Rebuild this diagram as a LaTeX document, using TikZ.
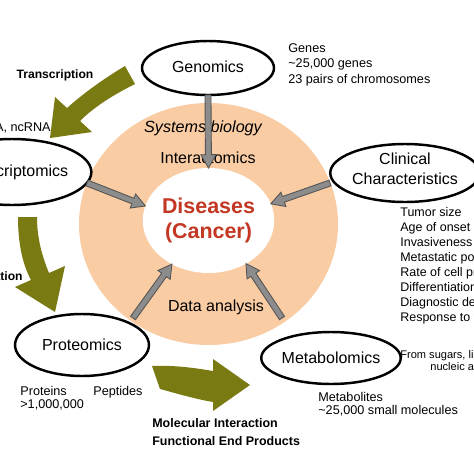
\documentclass[tikz,border=0pt]{standalone}
\usepackage{fontspec}
\setmainfont{Liberation Sans}
\usetikzlibrary{shapes.geometric,calc}
\definecolor{ringc}{RGB}{250,204,164}
\definecolor{olivec}{RGB}{122,122,18}
\definecolor{redc}{RGB}{195,55,35}
\definecolor{arrfill}{RGB}{140,140,140}
\definecolor{arrdraw}{RGB}{85,85,85}
\tikzset{
  omic/.style={ellipse, draw=black, line width=1.4pt, fill=white, inner sep=0pt, outer sep=0pt,
    font=\fontsize{9.1}{11.3}\selectfont, align=center},
  small/.style={inner sep=0pt, font=\fontsize{7.2}{8.8}\selectfont, align=left},
  boldlab/.style={inner sep=0pt, font=\bfseries\fontsize{6.9}{8}\selectfont},
  ringtext/.style={inner sep=0pt, font=\fontsize{9.1}{11}\selectfont},
  grayarr/.style={fill=arrfill, draw=arrdraw, line width=0.5pt, line join=miter},
  bigarr/.style={fill=olivec, draw=none},
  tiny/.style={inner sep=0pt, anchor=west, font=\fontsize{6.3}{7}\selectfont},
}
\newcommand\grayarrow[2]{%
  \path ($(#2)!7.6pt!(#1)$) coordinate (gab);
  \filldraw[grayarr] ($(#1)!1.7pt!90:(#2)$) -- ($(gab)!1.7pt!90:(#2)$) -- ($(gab)!4.3pt!90:(#2)$)
    -- (#2) -- ($(gab)!4.3pt!-90:(#2)$) -- ($(gab)!1.7pt!-90:(#2)$) -- ($(#1)!1.7pt!-90:(#2)$) -- cycle;}
\begin{document}
\begin{tikzpicture}[x=0.02cm,y=-0.02cm]
\useasboundingbox (0,0) rectangle (474,474);
\clip (0,0) rectangle (474,474);
\fill[white] (0,0) rectangle (474,474);
% ring
\fill[ringc] (208.5,224) ellipse [x radius=129.5, y radius=121];
\node[ellipse, fill=white, minimum width=2.34cm, minimum height=2.1cm, inner sep=0pt, outer sep=0pt,
  text=redc, font=\bfseries\fontsize{12.2}{14.2}\selectfont, align=center] (disease) at (208.5,220.5) {Diseases\\(Cancer)};
\node[ringtext, font=\itshape\fontsize{9.2}{11}\selectfont] (sysbio) at (203,128) {Systems biology};
\node[ringtext] (interact) at (208,158) {Interactomics};
\node[ringtext] (data) at (216,307) {Data analysis};
% olive arrows
\fill[bigarr] (125,66) .. controls (105,78) and (85,92) .. (67,108) -- (55,97) -- (50,138) -- (92,132)
  -- (80,121) .. controls (95,106) and (115,94) .. (135,84) -- cycle;
\fill[bigarr] (18,217) .. controls (18,245) and (23,265) .. (31,280) -- (15,287) -- (55,312) -- (65,266)
  -- (49,273) .. controls (42,256) and (37,238) .. (37,217) -- cycle;
\fill[bigarr] (152,366) .. controls (175,365) and (195,368) .. (213,371) -- (213,359) -- (250,385)
  -- (213,411) -- (213,402) .. controls (195,399) and (175,393) .. (160,389) -- cycle;
% ellipses
\node[omic, minimum width=2.64cm, minimum height=1.08cm, text depth=2pt] (genomics) at (208,68) {Genomics};
\node[omic, minimum width=2.8cm, minimum height=1.32cm] (trans) at (12,172) {Transcriptomics};
\node[omic, minimum width=2.52cm, minimum height=1.16cm, text depth=5pt] (clinical) at (405,173) {Clinical\\Characteristics};
\node[omic, minimum width=2.68cm, minimum height=1.24cm] (prot) at (82,345) {Proteomics};
\node[omic, minimum width=2.64cm, minimum height=1.04cm] (metab) at (331,358) {Metabolomics};
% texts
\node[small, anchor=north west] (genes) at (288,43) {Genes\\\textasciitilde25,000 genes\\23 pairs of chromosomes};
\node[small, anchor=north west, font=\fontsize{7.1}{8.5}\selectfont] (clinlist) at (400,207.5)
  {Tumor size\\Age of onset\\Invasiveness\\Metastatic potential\\Rate of cell proliferation\\Differentiation\\Diagnostic delay\\Response to therapy};
\node[small, anchor=north west, font=\fontsize{7.2}{7.9}\selectfont] (proteins) at (20,385.5) {Proteins\\>1,000,000};
\node[small, anchor=north west] (peptides) at (93,385.5) {Peptides};
\node[small, anchor=north west, font=\fontsize{7.2}{7.9}\selectfont] (metabolites) at (318,391.5) {Metabolites\\\textasciitilde25,000 small molecules};
\node[tiny] (sugars) at (400,356) {From sugars, lipids,};
\node[tiny] (nucleic) at (430,367) {nucleic acids};
\node[boldlab] (transcription) at (55,75) {Transcription};
\node[small, anchor=east] (rna) at (51,128) {mRNA, ncRNA};
\node[boldlab, anchor=east] (translation) at (23,276) {Translation};
\node[boldlab, anchor=north west, align=left, font=\bfseries\fontsize{7.1}{10.2}\selectfont] (molint) at (152,418.5)
  {Molecular Interaction\\Functional End Products};
% gray arrows
\coordinate (tT) at (87,183);
\coordinate (tC) at (330,183);
\coordinate (tP) at (133,318);
\coordinate (tM) at (282,318);
\grayarrow{genomics.south}{disease.north}
\grayarrow{tT}{disease.167}
\grayarrow{tC}{disease.15}
\grayarrow{tP}{disease.230}
\grayarrow{tM}{disease.311}
\end{tikzpicture}
\end{document}
